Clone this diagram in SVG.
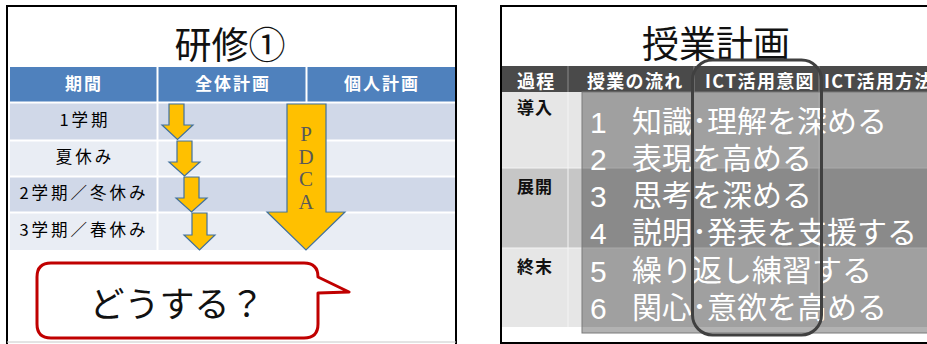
<svg xmlns="http://www.w3.org/2000/svg" width="927" height="344" viewBox="0 0 927 344">
<style>
.jp{font-family:"Noto Sans CJK JP","Liberation Sans",sans-serif}
.title{font-size:37px;fill:#111;text-anchor:middle}
.hdrL{font-size:17px;font-weight:bold;fill:#fff;text-anchor:middle;letter-spacing:2px}
.rowL{font-size:16.5px;fill:#000;text-anchor:middle;letter-spacing:3px}
.hdrR{font-size:18px;font-weight:bold;fill:#fff;letter-spacing:1.3px}
.lblR{font-size:17px;font-weight:bold;fill:#111;letter-spacing:1px}
.line{font-size:30px;fill:#fff}
.num{font-family:"Liberation Sans",Arial,sans-serif;font-size:30px;fill:#fff}
.pdca{font-family:"Liberation Serif","Times New Roman",serif;font-size:21px;fill:#595959;text-anchor:middle}
.arr{fill:#FFC000;stroke:#41719C;stroke-width:1.2;stroke-linejoin:miter}
</style>

<!-- Left panel -->
<g id="panel-left">
  <rect x="0" y="0" width="927" height="344" fill="#fff"/>
  <line x1="7" y1="6" x2="456" y2="6" stroke="#000" stroke-width="2"/>
  <line x1="7" y1="5" x2="7" y2="344" stroke="#000" stroke-width="2"/>
  <line x1="456" y1="5" x2="456" y2="344" stroke="#000" stroke-width="2"/>
  <line x1="7" y1="342" x2="456" y2="342" stroke="#c8c8c8" stroke-width="1"/>
</g>
<g id="title-left">
  <text class="jp title" x="230" y="59" font-size="38">研修①</text>
</g>
<g id="table-left">
  <rect x="10" y="67" width="445" height="35" fill="#4F81BD"/>
  <rect x="10" y="103" width="445" height="37" fill="#D0D8E8"/>
  <rect x="10" y="141" width="445" height="35" fill="#E9EDF4"/>
  <rect x="10" y="177" width="445" height="35" fill="#D0D8E8"/>
  <rect x="10" y="213" width="445" height="37" fill="#E9EDF4"/>
  <g stroke="#fff" stroke-width="2">
    <line x1="157.5" y1="67" x2="157.5" y2="250"/>
    <line x1="306.5" y1="67" x2="306.5" y2="250"/>
    <line x1="10" y1="102.5" x2="455" y2="102.5"/>
    <line x1="10" y1="140.5" x2="455" y2="140.5"/>
    <line x1="10" y1="176.5" x2="455" y2="176.5"/>
    <line x1="10" y1="212.5" x2="455" y2="212.5"/>
  </g>
  <text class="jp hdrL" x="84" y="90">期間</text>
  <text class="jp hdrL" x="233" y="90">全体計画</text>
  <text class="jp hdrL" x="382" y="90">個人計画</text>
  <text class="jp rowL" x="85" y="126">1学期</text>
  <text class="jp rowL" x="85" y="163">夏休み</text>
  <text class="jp rowL" x="84" y="199">2学期／冬休み</text>
  <text class="jp rowL" x="84" y="236">3学期／春休み</text>
</g>
<g id="connectors">
  <path class="arr" d="M169,104 H184 V125 H193 L177.5,139.5 L162,125 H169 Z"/>
  <path class="arr" d="M177,141 H192 V162 H200 L184.5,176 L169,162 H177 Z"/>
  <path class="arr" d="M184,177 H199 V198 H207 L191.5,212 L176,198 H184 Z"/>
  <path class="arr" d="M192,213 H207 V235 H215 L199.5,250 L184,235 H192 Z"/>
  <path class="arr" d="M287,104 H326 V212 H345 L306,250 L267,212 H287 Z"/>
</g>
<g id="pdca-label">
  <text class="pdca" x="306" y="141">P</text>
  <text class="pdca" x="306" y="164">D</text>
  <text class="pdca" x="306" y="186">C</text>
  <text class="pdca" x="306" y="209">A</text>
</g>
<g id="callout">
  <path d="M51,263 H304 Q318,263 318,277 L349,292 L318,293 V324 Q318,338 304,338 H51 Q37,338 37,324 V277 Q37,263 51,263 Z" fill="#fff" stroke="#C00000" stroke-width="3" stroke-linejoin="round"/>
  <text class="jp" x="177" y="317" font-size="35" fill="#111" text-anchor="middle">どうする？</text>
</g>

<!-- Right panel -->
<g id="panel-right">
  <line x1="501" y1="6" x2="927" y2="6" stroke="#000" stroke-width="2"/>
  <line x1="501" y1="5" x2="501" y2="344" stroke="#000" stroke-width="2"/>
  <line x1="501" y1="343" x2="927" y2="343" stroke="#000" stroke-width="2"/>
</g>
<g id="title-right">
  <text class="jp title" x="716" y="58">授業計画</text>
</g>
<g id="table-right">
  <rect x="502" y="66" width="425" height="26" fill="#4A4A4A"/>
  <g stroke="#8a8a8a" stroke-width="1">
    <line x1="568" y1="66" x2="568" y2="92"/>
    <line x1="694" y1="66" x2="694" y2="92"/>
    <line x1="819" y1="66" x2="819" y2="92"/>
  </g>
  <rect x="502" y="92" width="425" height="76" fill="#E6E6E6"/>
  <rect x="502" y="168" width="425" height="80" fill="#C6C6C6"/>
  <rect x="502" y="248" width="425" height="79" fill="#E6E6E6"/>
  <g stroke="#f4f4f4" stroke-width="1">
    <line x1="568" y1="92" x2="568" y2="327"/>
    <line x1="819" y1="92" x2="819" y2="327"/>
    <line x1="502" y1="168" x2="927" y2="168"/>
    <line x1="502" y1="248" x2="927" y2="248"/>
  </g>
  <text class="jp hdrR" x="517" y="88">過程</text>
  <text class="jp hdrR" x="587" y="88">授業の流れ</text>
  <text class="jp hdrR" x="705" y="88">ICT活用意図</text>
  <text class="jp hdrR" x="824" y="88">ICT活用方法</text>
  <text class="jp lblR" x="517" y="114">導入</text>
  <text class="jp lblR" x="517" y="193">展開</text>
  <text class="jp lblR" x="517" y="273">終末</text>
</g>
<g id="overlay-list">
  <rect x="582" y="92" width="350" height="241" fill="#000" fill-opacity="0.3" stroke="#7a7a7a" stroke-width="1"/>
  <text class="num" x="590" y="133">1</text>
  <text class="jp line" x="632" y="132">知識･理解を深める</text>
  <text class="num" x="590" y="170">2</text>
  <text class="jp line" x="632" y="169">表現を高める</text>
  <text class="num" x="590" y="207">3</text>
  <text class="jp line" x="632" y="206">思考を深める</text>
  <text class="num" x="590" y="244">4</text>
  <text class="jp line" x="632" y="243">説明･発表を支援する</text>
  <text class="num" x="590" y="282">5</text>
  <text class="jp line" x="632" y="281">繰り返し練習する</text>
  <text class="num" x="590" y="319">6</text>
  <text class="jp line" x="632" y="318">関心･意欲を高める</text>
</g>
<g id="highlight">
  <rect x="692.5" y="60" width="129" height="275" rx="20" ry="20" fill="none" stroke="#404040" stroke-width="3"/>
</g>
</svg>
